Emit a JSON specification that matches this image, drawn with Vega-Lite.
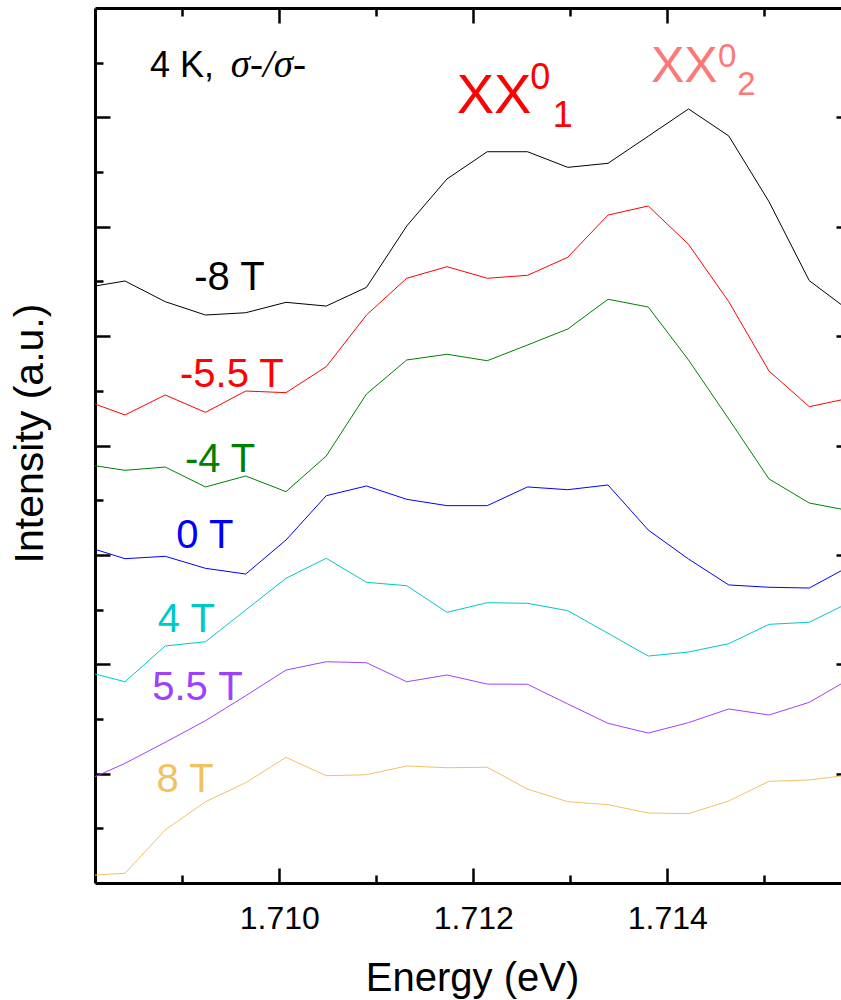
{
  "$schema": "https://vega.github.io/schema/vega-lite/v6.json",
  "width": 746,
  "height": 875,
  "autosize": {"type": "none"},
  "padding": {"left": 95, "top": 8, "right": 0, "bottom": 117},
  "background": "white",
  "config": {
    "view": {"stroke": null},
    "font": "Liberation Sans",
    "axis": {"grid": false, "tickColor": "black", "tickWidth": 2.5, "domainColor": "black", "domainWidth": 3, "labelFont": "Liberation Sans", "titleFont": "Liberation Sans", "titleFontWeight": "normal", "titleColor": "black", "labelColor": "black"}
  },
  "datasets": {
    "spectra": [
      {"B":"-8 T","E":1.7081,"I":5.458},{"B":"-8 T","E":1.708409,"I":5.504},{"B":"-8 T","E":1.708824,"I":5.315},{"B":"-8 T","E":1.709239,"I":5.193},{"B":"-8 T","E":1.709654,"I":5.214},{"B":"-8 T","E":1.710069,"I":5.309},{"B":"-8 T","E":1.710484,"I":5.275},{"B":"-8 T","E":1.710899,"I":5.446},{"B":"-8 T","E":1.711314,"I":6.007},{"B":"-8 T","E":1.711729,"I":6.437},{"B":"-8 T","E":1.712144,"I":6.686},{"B":"-8 T","E":1.712559,"I":6.686},{"B":"-8 T","E":1.712974,"I":6.543},{"B":"-8 T","E":1.713389,"I":6.58},{"B":"-8 T","E":1.713804,"I":6.828},{"B":"-8 T","E":1.714219,"I":7.077},{"B":"-8 T","E":1.714634,"I":6.83},{"B":"-8 T","E":1.715049,"I":6.229},{"B":"-8 T","E":1.715464,"I":5.507},{"B":"-8 T","E":1.715879,"I":5.231},
      {"B":"-5.5 T","E":1.7081,"I":4.379},{"B":"-5.5 T","E":1.708409,"I":4.279},{"B":"-5.5 T","E":1.708824,"I":4.462},{"B":"-5.5 T","E":1.709239,"I":4.303},{"B":"-5.5 T","E":1.709654,"I":4.498},{"B":"-5.5 T","E":1.710069,"I":4.483},{"B":"-5.5 T","E":1.710484,"I":4.721},{"B":"-5.5 T","E":1.710899,"I":5.193},{"B":"-5.5 T","E":1.711314,"I":5.529},{"B":"-5.5 T","E":1.711729,"I":5.635},{"B":"-5.5 T","E":1.712144,"I":5.529},{"B":"-5.5 T","E":1.712559,"I":5.556},{"B":"-5.5 T","E":1.712974,"I":5.721},{"B":"-5.5 T","E":1.713389,"I":6.107},{"B":"-5.5 T","E":1.713804,"I":6.19},{"B":"-5.5 T","E":1.714219,"I":5.839},{"B":"-5.5 T","E":1.714634,"I":5.315},{"B":"-5.5 T","E":1.715049,"I":4.681},{"B":"-5.5 T","E":1.715464,"I":4.355},{"B":"-5.5 T","E":1.715879,"I":4.433},
      {"B":"-4 T","E":1.7081,"I":3.815},{"B":"-4 T","E":1.708409,"I":3.773},{"B":"-4 T","E":1.708824,"I":3.803},{"B":"-4 T","E":1.709239,"I":3.621},{"B":"-4 T","E":1.709654,"I":3.721},{"B":"-4 T","E":1.710069,"I":3.578},{"B":"-4 T","E":1.710484,"I":3.904},{"B":"-4 T","E":1.710899,"I":4.471},{"B":"-4 T","E":1.711314,"I":4.782},{"B":"-4 T","E":1.711729,"I":4.834},{"B":"-4 T","E":1.712144,"I":4.775},{"B":"-4 T","E":1.712559,"I":4.919},{"B":"-4 T","E":1.712974,"I":5.065},{"B":"-4 T","E":1.713389,"I":5.337},{"B":"-4 T","E":1.713804,"I":5.266},{"B":"-4 T","E":1.714219,"I":4.782},{"B":"-4 T","E":1.714634,"I":4.242},{"B":"-4 T","E":1.715049,"I":3.694},{"B":"-4 T","E":1.715464,"I":3.474},{"B":"-4 T","E":1.715879,"I":3.404},
      {"B":"0 T","E":1.7081,"I":3.051},{"B":"0 T","E":1.708409,"I":2.965},{"B":"0 T","E":1.708824,"I":2.987},{"B":"0 T","E":1.709239,"I":2.877},{"B":"0 T","E":1.709654,"I":2.825},{"B":"0 T","E":1.710069,"I":3.136},{"B":"0 T","E":1.710484,"I":3.541},{"B":"0 T","E":1.710899,"I":3.63},{"B":"0 T","E":1.711314,"I":3.508},{"B":"0 T","E":1.711729,"I":3.45},{"B":"0 T","E":1.712144,"I":3.45},{"B":"0 T","E":1.712559,"I":3.621},{"B":"0 T","E":1.712974,"I":3.596},{"B":"0 T","E":1.713389,"I":3.639},{"B":"0 T","E":1.713804,"I":3.227},{"B":"0 T","E":1.714219,"I":2.962},{"B":"0 T","E":1.714634,"I":2.725},{"B":"0 T","E":1.715049,"I":2.704},{"B":"0 T","E":1.715464,"I":2.697},{"B":"0 T","E":1.715879,"I":2.896},
      {"B":"4 T","E":1.7081,"I":1.911},{"B":"4 T","E":1.708409,"I":1.84},{"B":"4 T","E":1.708824,"I":2.167},{"B":"4 T","E":1.709239,"I":2.206},{"B":"4 T","E":1.709654,"I":2.496},{"B":"4 T","E":1.710069,"I":2.786},{"B":"4 T","E":1.710484,"I":2.969},{"B":"4 T","E":1.710899,"I":2.749},{"B":"4 T","E":1.711314,"I":2.718},{"B":"4 T","E":1.711729,"I":2.475},{"B":"4 T","E":1.712144,"I":2.563},{"B":"4 T","E":1.712559,"I":2.557},{"B":"4 T","E":1.712974,"I":2.49},{"B":"4 T","E":1.713389,"I":2.283},{"B":"4 T","E":1.713804,"I":2.075},{"B":"4 T","E":1.714219,"I":2.112},{"B":"4 T","E":1.714634,"I":2.188},{"B":"4 T","E":1.715049,"I":2.365},{"B":"4 T","E":1.715464,"I":2.384},{"B":"4 T","E":1.715879,"I":2.565},
      {"B":"5.5 T","E":1.7081,"I":0.972},{"B":"5.5 T","E":1.708409,"I":1.094},{"B":"5.5 T","E":1.708824,"I":1.286},{"B":"5.5 T","E":1.709239,"I":1.484},{"B":"5.5 T","E":1.709654,"I":1.712},{"B":"5.5 T","E":1.710069,"I":1.947},{"B":"5.5 T","E":1.710484,"I":2.023},{"B":"5.5 T","E":1.710899,"I":2.014},{"B":"5.5 T","E":1.711314,"I":1.84},{"B":"5.5 T","E":1.711729,"I":1.902},{"B":"5.5 T","E":1.712144,"I":1.819},{"B":"5.5 T","E":1.712559,"I":1.817},{"B":"5.5 T","E":1.712974,"I":1.637},{"B":"5.5 T","E":1.713389,"I":1.46},{"B":"5.5 T","E":1.713804,"I":1.371},{"B":"5.5 T","E":1.714219,"I":1.466},{"B":"5.5 T","E":1.714634,"I":1.591},{"B":"5.5 T","E":1.715049,"I":1.536},{"B":"5.5 T","E":1.715464,"I":1.652},{"B":"5.5 T","E":1.715879,"I":1.865},
      {"B":"8 T","E":1.7081,"I":0.073},{"B":"8 T","E":1.708409,"I":0.089},{"B":"8 T","E":1.708824,"I":0.485},{"B":"8 T","E":1.709239,"I":0.743},{"B":"8 T","E":1.709654,"I":0.917},{"B":"8 T","E":1.710069,"I":1.149},{"B":"8 T","E":1.710484,"I":0.981},{"B":"8 T","E":1.710899,"I":0.99},{"B":"8 T","E":1.711314,"I":1.07},{"B":"8 T","E":1.711729,"I":1.054},{"B":"8 T","E":1.712144,"I":1.058},{"B":"8 T","E":1.712559,"I":0.859},{"B":"8 T","E":1.712974,"I":0.743},{"B":"8 T","E":1.713389,"I":0.716},{"B":"8 T","E":1.713804,"I":0.64},{"B":"8 T","E":1.714219,"I":0.634},{"B":"8 T","E":1.714634,"I":0.75},{"B":"8 T","E":1.715049,"I":0.93},{"B":"8 T","E":1.715464,"I":0.942},{"B":"8 T","E":1.715879,"I":0.988}
    ],
    "curvelabels": [
      {"B":"-8 T","t":"-8 T","E":1.709123,"I":5.422},
      {"B":"-5.5 T","t":"-5.5 T","E":1.708976,"I":4.538},
      {"B":"-4 T","t":"-4 T","E":1.709027,"I":3.76},
      {"B":"0 T","t":"0 T","E":1.708938,"I":3.06},
      {"B":"4 T","t":"4 T","E":1.708748,"I":2.295},
      {"B":"5.5 T","t":"5.5 T","E":1.70869,"I":1.669},
      {"B":"8 T","t":"8 T","E":1.708735,"I":0.835}
    ],
    "header": [{"t":"4 K,","E":1.708667,"I":7.366}],
    "sigma": [{"t":"σ-/σ-","E":1.7095,"I":7.366}],
    "xx1big": [{"t":"XX","E":1.711829,"I":7.043}],
    "xx1small": [{"t":"0","E":1.712587,"I":7.257},{"t":"1","E":1.71282,"I":6.909}],
    "xx2big": [{"t":"XX","E":1.713832,"I":7.326}],
    "xx2small": [{"t":"0","E":1.714522,"I":7.463},{"t":"2","E":1.714722,"I":7.205}]
  },
  "resolve": {"axis": {"x": "independent", "y": "independent"}},
  "layer": [
    {
      "data": {"name": "spectra"},
      "mark": {"type": "line", "strokeWidth": 1, "clip": true},
      "encoding": {
        "x": {"field": "E", "type": "quantitative", "scale": {"domain": [1.7081, 1.715791], "nice": false, "zero": false},
          "axis": {"orient": "bottom", "values": [1.709, 1.71, 1.711, 1.712, 1.713, 1.714, 1.715], "format": ".3f",
            "labelExpr": "indexof(['1.710','1.712','1.714'], datum.label) >= 0 ? datum.label : ''",
            "tickSize": {"condition": {"test": "indexof([1710,1712,1714], round(datum.value*1000)) >= 0", "value": -15}, "value": -8},
            "labelFontSize": 32, "labelBaseline": "alphabetic", "labelPadding": 60, "labelFlush": false, "labelOverlap": false,
            "title": "Energy (eV)", "titleFontSize": 40, "titleX": 377, "titleY": 107, "titleBaseline": "alphabetic", "titleAlign": "center"}},
        "y": {"field": "I", "type": "quantitative", "scale": {"domain": [0, 8], "nice": false, "zero": false},
          "axis": {"orient": "left", "values": [0.5, 1, 1.5, 2, 2.5, 3, 3.5, 4, 4.5, 5, 5.5, 6, 6.5, 7, 7.5], "labels": false,
            "tickSize": {"condition": {"test": "datum.value % 1 == 0", "value": -15}, "value": -8},
            "title": "Intensity (a.u.)", "titleFontSize": 41, "titleAngle": -90, "titleX": -53, "titleY": 425, "titleBaseline": "alphabetic", "titleAlign": "center"}},
        "color": {"field": "B", "type": "nominal", "legend": null,
          "scale": {"domain": ["-8 T", "-5.5 T", "-4 T", "0 T", "4 T", "5.5 T", "8 T"], "range": ["#000000", "#FF0000", "#008000", "#0000FF", "#00C8C8", "#A040FF", "#F0C264"]}}
      }
    },
    {
      "data": {"name": "curvelabels"},
      "mark": {"type": "text", "align": "left", "baseline": "alphabetic", "fontSize": 40, "font": "Liberation Sans"},
      "encoding": {
        "x": {"field": "E", "type": "quantitative",
          "axis": {"orient": "top", "values": [1.709, 1.71, 1.711, 1.712, 1.713, 1.714, 1.715], "labels": false, "title": null,
            "tickSize": {"condition": {"test": "indexof([1710,1712,1714], round(datum.value*1000)) >= 0", "value": -15}, "value": -8}}},
        "y": {"field": "I", "type": "quantitative",
          "axis": {"orient": "right", "values": [1, 2, 3, 4, 5, 6, 7], "labels": false, "title": null, "domain": false, "tickSize": -5}},
        "color": {"field": "B", "type": "nominal", "legend": null},
        "text": {"field": "t"}
      }
    },
    {
      "data": {"name": "header"},
      "mark": {"type": "text", "align": "left", "baseline": "alphabetic", "fontSize": 36, "font": "Liberation Sans", "color": "black"},
      "encoding": {"x": {"field": "E", "type": "quantitative", "axis": null}, "y": {"field": "I", "type": "quantitative", "axis": null}, "text": {"field": "t"}}
    },
    {
      "data": {"name": "sigma"},
      "mark": {"type": "text", "align": "left", "baseline": "alphabetic", "fontSize": 39, "font": "Liberation Serif", "fontStyle": "italic", "color": "black"},
      "encoding": {"x": {"field": "E", "type": "quantitative", "axis": null}, "y": {"field": "I", "type": "quantitative", "axis": null}, "text": {"field": "t"}}
    },
    {
      "data": {"name": "xx1big"},
      "mark": {"type": "text", "align": "left", "baseline": "alphabetic", "fontSize": 56, "font": "Liberation Sans", "color": "#FF0000"},
      "encoding": {"x": {"field": "E", "type": "quantitative", "axis": null}, "y": {"field": "I", "type": "quantitative", "axis": null}, "text": {"field": "t"}}
    },
    {
      "data": {"name": "xx1small"},
      "mark": {"type": "text", "align": "left", "baseline": "alphabetic", "fontSize": 36, "font": "Liberation Sans", "color": "#FF0000"},
      "encoding": {"x": {"field": "E", "type": "quantitative", "axis": null}, "y": {"field": "I", "type": "quantitative", "axis": null}, "text": {"field": "t"}}
    },
    {
      "data": {"name": "xx2big"},
      "mark": {"type": "text", "align": "left", "baseline": "alphabetic", "fontSize": 50, "font": "Liberation Sans", "color": "#FF7878"},
      "encoding": {"x": {"field": "E", "type": "quantitative", "axis": null}, "y": {"field": "I", "type": "quantitative", "axis": null}, "text": {"field": "t"}}
    },
    {
      "data": {"name": "xx2small"},
      "mark": {"type": "text", "align": "left", "baseline": "alphabetic", "fontSize": 33, "font": "Liberation Sans", "color": "#FF7878"},
      "encoding": {"x": {"field": "E", "type": "quantitative", "axis": null}, "y": {"field": "I", "type": "quantitative", "axis": null}, "text": {"field": "t"}}
    }
  ]
}
